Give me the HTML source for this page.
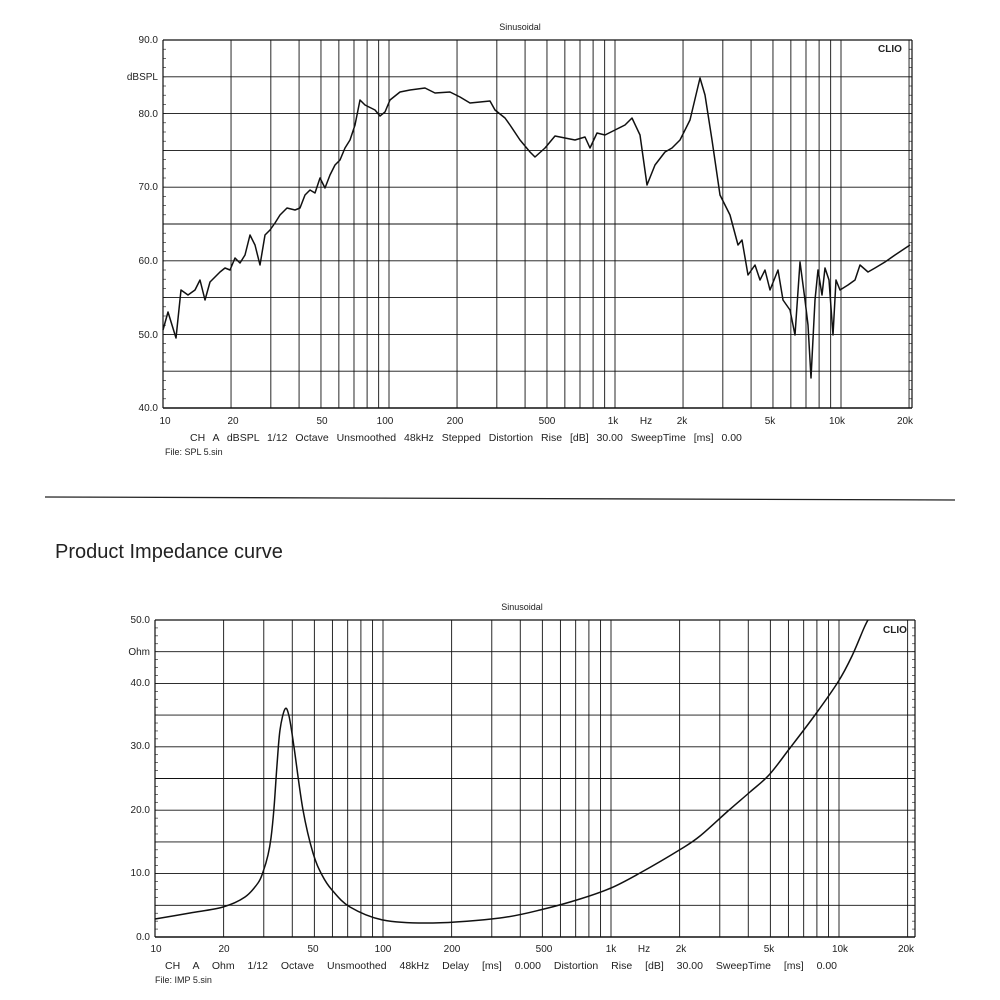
<!DOCTYPE html>
<html><head><meta charset="utf-8"><style>
body{margin:0;background:#fff;width:1000px;height:1000px;overflow:hidden}
svg{position:absolute;left:0;top:0}
text{font-family:"Liberation Sans",sans-serif;fill:#222}
</style></head><body>
<svg id="s" width="1000" height="1000" viewBox="0 0 1000 1000">
<g id="g1" stroke="#111" stroke-width="1" fill="none"></g>
<g id="g2" stroke="#111" stroke-width="1" fill="none"></g>
<text x="520" y="30" font-size="9" text-anchor="middle">Sinusoidal</text>
<text x="878" y="52" font-size="10" font-weight="bold" font-family="Liberation Serif">CLIO</text>
<text x="158" y="43" font-size="10" text-anchor="end">90.0</text>
<text x="158" y="80" font-size="10" text-anchor="end">dBSPL</text>
<text x="158" y="117" font-size="10" text-anchor="end">80.0</text>
<text x="158" y="190" font-size="10" text-anchor="end">70.0</text>
<text x="158" y="264" font-size="10" text-anchor="end">60.0</text>
<text x="158" y="338" font-size="10" text-anchor="end">50.0</text>
<text x="158" y="411" font-size="10" text-anchor="end">40.0</text>
<g font-size="10" text-anchor="middle">
<text x="165" y="424">10</text><text x="233" y="424">20</text><text x="322" y="424">50</text><text x="385" y="424">100</text><text x="455" y="424">200</text><text x="547" y="424">500</text><text x="613" y="424">1k</text><text x="646" y="424">Hz</text><text x="682" y="424">2k</text><text x="770" y="424">5k</text><text x="837" y="424">10k</text><text x="905" y="424">20k</text>
</g>
<text x="190" y="441" font-size="10.5" word-spacing="5">CH A  dBSPL  1/12 Octave Unsmoothed 48kHz Stepped  Distortion Rise [dB] 30.00  SweepTime [ms] 0.00</text>
<text x="165" y="455" font-size="9">File: SPL 5.sin</text>
<line x1="45" y1="497" x2="955" y2="500" stroke="#222" stroke-width="1.3"/>
<text x="55" y="558" font-size="20" fill="#333">Product Impedance curve</text>
<text x="522" y="610" font-size="9" text-anchor="middle">Sinusoidal</text>
<text x="883" y="633" font-size="10" font-weight="bold" font-family="Liberation Serif">CLIO</text>
<g font-size="10" text-anchor="end">
<text x="150" y="623">50.0</text><text x="150" y="655">Ohm</text><text x="150" y="686">40.0</text><text x="150" y="749">30.0</text><text x="150" y="813">20.0</text><text x="150" y="876">10.0</text><text x="150" y="940">0.0</text>
</g>
<g font-size="10" text-anchor="middle">
<text x="156" y="952">10</text><text x="224" y="952">20</text><text x="313" y="952">50</text><text x="383" y="952">100</text><text x="452" y="952">200</text><text x="544" y="952">500</text><text x="611" y="952">1k</text><text x="644" y="952">Hz</text><text x="681" y="952">2k</text><text x="769" y="952">5k</text><text x="840" y="952">10k</text><text x="906" y="952">20k</text>
</g>
<text x="165" y="969" font-size="10.5" word-spacing="10">CH A  Ohm  1/12 Octave  Unsmoothed  48kHz  Delay [ms] 0.000  Distortion Rise [dB] 30.00  SweepTime [ms] 0.00</text>
<text x="155" y="983" font-size="9">File: IMP 5.sin</text>
</svg>
<script>
const NS="http://www.w3.org/2000/svg";
function ln(g,x1,y1,x2,y2,w){const l=document.createElementNS(NS,"line");l.setAttribute("x1",x1);l.setAttribute("y1",y1);l.setAttribute("x2",x2);l.setAttribute("y2",y2);if(w)l.setAttribute("stroke-width",w);g.appendChild(l);}
const fr=[];for(let d of [10,100,1000])for(let m=1;m<10;m++)fr.push(d*m);fr.push(10000,20000);
function grid(g,L,R,T,B,dec,hs){
 for(const f of fr){const x=L+dec*Math.log10(f/10);if(x<=R)ln(g,x,T,x,B,0.9);}
 for(const y of hs)ln(g,L,y,R,y,0.9);
 ln(g,L,T,R,T,1.2);ln(g,L,B,R,B,1.5);ln(g,L,T,L,B,1.2);ln(g,R,T,R,B,1.2);
 for(let y=T;y<B;y+=(B-T)/40){ln(g,L,y,L+3,y,0.6);ln(g,R-3,y,R,y,0.6);}
}
const g1=document.getElementById("g1"),g2=document.getElementById("g2");
const h1=[];for(let i=1;i<10;i++)h1.push(40+i*(368/10));
grid(g1,163,912,40,408,226,h1);
const h2=[];for(let i=1;i<10;i++)h2.push(620+i*(317/10));
grid(g2,155,915,620,937,228,h2);
const spl=[[163,330],[168,312],[176,338],[181,290],[188,295],[195,290],[200,280],[205,300],[210,282],[215,277],[220,272],[225,268],[230,270],[235,258],[240,263],[245,255],[250,235],[255,245],[260,265],[265,235],[270,230],[275,223],[280,215],[287,208],[295,210],[300,208],[305,195],[310,190],[315,193],[320,178],[325,188],[330,175],[335,165],[340,160],[345,148],[350,140],[355,125],[360,100],[365,105],[375,110],[380,116],[385,112],[390,100],[400,92],[410,90],[425,88],[435,93],[450,92],[460,97],[470,103],[480,102],[490,101],[495,110],[505,118],[510,125],[520,140],[530,152],[535,157],[545,148],[555,136],[565,138],[575,140],[585,137],[590,148],[597,133],[605,135],[615,130],[625,125],[632,118],[640,135],[647,185],[655,165],[665,152],[672,148],[680,140],[690,120],[700,78],[705,95],[712,140],[720,195],[730,215],[738,245],[742,240],[748,275],[755,265],[760,280],[765,270],[770,290],[778,270],[783,300],[790,310],[795,335],[800,262],[805,300],[808,325],[811,378],[815,300],[818,270],[822,295],[825,268],[829,280],[833,335],[836,280],[840,290],[848,285],[855,280],[860,265],[868,272],[875,268],[885,262],[895,255],[910,245]];
function pl(g,pts,w){const p=document.createElementNS(NS,"polyline");p.setAttribute("points",pts.map(a=>a.join(",")).join(" "));p.setAttribute("stroke-width",w);p.setAttribute("stroke-linejoin","round");g.appendChild(p);}
pl(g1,spl,1.5);
const imp=[[155,919],[190,913],[223,907],[245,897],[258,883],[263,872],[268,855],[271,838],[274,808],[277,765],[280,730],[285,709],[289,716],[294,747],[303,810],[313,853],[322,875],[332,890],[350,907],[383,920],[433,923],[500,918],[544,909],[580,899],[611,888],[640,873],[681,849],[700,836],[728,811],[750,792],[769,775],[790,748],[815,715],[838,682],[852,656],[864,628],[868,620]];
let d="M"+imp[0].join(",");
for(let i=0;i<imp.length-1;i++){
 const p0=imp[Math.max(0,i-1)],p1=imp[i],p2=imp[i+1],p3=imp[Math.min(imp.length-1,i+2)];
 const c1=[p1[0]+(p2[0]-p0[0])/6,p1[1]+(p2[1]-p0[1])/6],c2=[p2[0]-(p3[0]-p1[0])/6,p2[1]-(p3[1]-p1[1])/6];
 d+=` C${c1[0].toFixed(1)},${c1[1].toFixed(1)} ${c2[0].toFixed(1)},${c2[1].toFixed(1)} ${p2[0]},${p2[1]}`;
}
const p2=document.createElementNS(NS,"path");
p2.setAttribute("d",d);p2.setAttribute("stroke-width",1.5);p2.setAttribute("stroke-linejoin","round");g2.appendChild(p2);
</script>
</body></html>
